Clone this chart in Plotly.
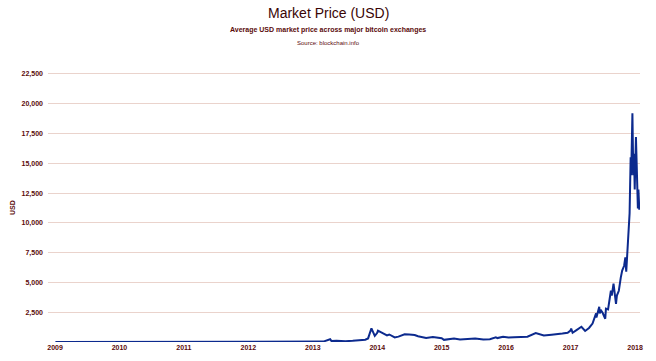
import plotly.graph_objects as go

dates = [
    "2009-01-03", "2010-07-17", "2010-10-01", "2010-11-06", "2011-02-09", "2011-04-15",
    "2011-06-08", "2011-07-01", "2011-10-01", "2011-11-20", "2012-01-10", "2012-06-01",
    "2012-08-16", "2012-11-01", "2013-01-01", "2013-03-01", "2013-04-09", "2013-04-16",
    "2013-05-15", "2013-07-05", "2013-08-15", "2013-10-01", "2013-10-25", "2013-11-10",
    "2013-11-18", "2013-11-29", "2013-12-18", "2013-12-31", "2014-01-05", "2014-01-25",
    "2014-02-25", "2014-03-10", "2014-04-10", "2014-05-01", "2014-06-05", "2014-07-01",
    "2014-08-01", "2014-08-20", "2014-09-20", "2014-10-05", "2014-11-12", "2014-12-15",
    "2015-01-01", "2015-01-14", "2015-02-15", "2015-03-12", "2015-04-15", "2015-06-01",
    "2015-07-10", "2015-08-25", "2015-10-01", "2015-11-04", "2015-11-12", "2015-12-15",
    "2016-01-15", "2016-02-15", "2016-03-15", "2016-05-01", "2016-06-17", "2016-07-01",
    "2016-08-02", "2016-09-15", "2016-10-15", "2016-11-15", "2016-12-15", "2016-12-31",
    "2017-01-04", "2017-01-12", "2017-02-01", "2017-02-23", "2017-03-03", "2017-03-24",
    "2017-04-15", "2017-05-05", "2017-05-25", "2017-05-27", "2017-06-12", "2017-06-15",
    "2017-06-20", "2017-07-01", "2017-07-16", "2017-07-20", "2017-08-01", "2017-08-17",
    "2017-08-22", "2017-09-01", "2017-09-15", "2017-09-20", "2017-10-01", "2017-10-12",
    "2017-10-20", "2017-10-31", "2017-11-07", "2017-11-12", "2017-11-20", "2017-11-28",
    "2017-12-01", "2017-12-07", "2017-12-10", "2017-12-17", "2017-12-22", "2017-12-26",
    "2017-12-30", "2018-01-06", "2018-01-12", "2018-01-17", "2018-01-20", "2018-01-25",
]
prices = [
    0, 0.05, 0.06, 0.3, 1.0, 1.0,
    30, 15, 5, 2.5, 7, 5.3,
    13, 11, 13.5, 34, 230, 90,
    115, 70, 100, 125, 190, 300,
    700, 1150, 520, 750, 950, 820,
    550, 630, 380, 450, 650, 630,
    590, 480, 400, 330, 420, 330,
    315, 180, 240, 295, 220, 225,
    290, 210, 237, 400, 330, 440,
    380, 400, 415, 450, 750, 680,
    540, 610, 640, 710, 780, 960,
    1130, 780, 980, 1180, 1280, 930,
    1180, 1550, 2400, 2050, 2950, 2400,
    2700, 2450, 1950, 2800, 2730, 4300,
    3900, 4900, 3200, 3900, 4300, 5400,
    6000, 6400, 7100, 5900, 8200, 9800,
    10800, 15500, 14000, 19200, 14000, 15800,
    12800, 17200, 13800, 11200, 12800, 11100,
]

y_ticks = [2500, 5000, 7500, 10000, 12500, 15000, 17500, 20000, 22500]
x_ticks = ["2009-01-01", "2010-01-01", "2011-01-01", "2012-01-01", "2013-01-01",
           "2014-01-01", "2015-01-01", "2016-01-01", "2017-01-01", "2018-01-01"]
x_labels = ["2009", "2010", "2011", "2012", "2013", "2014", "2015", "2016", "2017", "2018"]

title = "Market Price (USD)"
subtitle = "Average USD market price across major bitcoin exchanges"
source = "Source: blockchain.info"
y_title = "USD"

label_color = "#5a0a0a"
font_family = "Liberation Sans, Arial, sans-serif"

fig = go.Figure()
fig.add_trace(go.Scatter(
    x=dates, y=prices, mode="lines",
    line=dict(color="#0c2a8e", width=2),
    showlegend=False,
))

fig.update_layout(
    width=656, height=361,
    margin=dict(l=48, r=16, t=68, b=19, autoexpand=False),
    paper_bgcolor="white", plot_bgcolor="white",
    font=dict(family=font_family, color=label_color),
    xaxis=dict(
        range=["2008-11-22", "2018-01-29"], automargin=False,
        tickvals=x_ticks, ticktext=x_labels,
        showgrid=False, zeroline=False, showline=False,
        ticks="", tickfont=dict(size=7, color=label_color, weight="bold"),
    ),
    yaxis=dict(
        range=[0, 23000], automargin=False,
        tickvals=y_ticks, tickformat=",",
        showgrid=True, gridcolor="#ead3cc", gridwidth=1,
        zeroline=False, showline=False, ticks="",
        ticklabelstandoff=4,
        tickfont=dict(size=7, color=label_color, weight="bold"),
    ),
    annotations=[
        dict(text=title, xref="paper", yref="paper", x=0.473, y=(342 - 13) / 274,
             showarrow=False, xanchor="center", yanchor="middle",
             font=dict(size=14, color="#3a0505", family=font_family)),
        dict(text=subtitle, xref="paper", yref="paper", x=0.473, y=(342 - 30) / 274,
             showarrow=False, xanchor="center", yanchor="middle",
             font=dict(size=7, color=label_color, family=font_family, weight="bold")),
        dict(text=source, xref="paper", yref="paper", x=0.473, y=(342 - 43) / 274,
             showarrow=False, xanchor="center", yanchor="middle",
             font=dict(size=6, color=label_color, family=font_family)),
        dict(text=y_title, xref="paper", yref="paper", x=(12 - 48) / 592, y=(342 - 208) / 274,
             showarrow=False, xanchor="center", yanchor="middle", textangle=-90,
             font=dict(size=7, color=label_color, family=font_family, weight="bold")),
    ],
)

fig.write_html("out.html", config={"displayModeBar": False},
               post_script="document.body.style.margin='0';")
